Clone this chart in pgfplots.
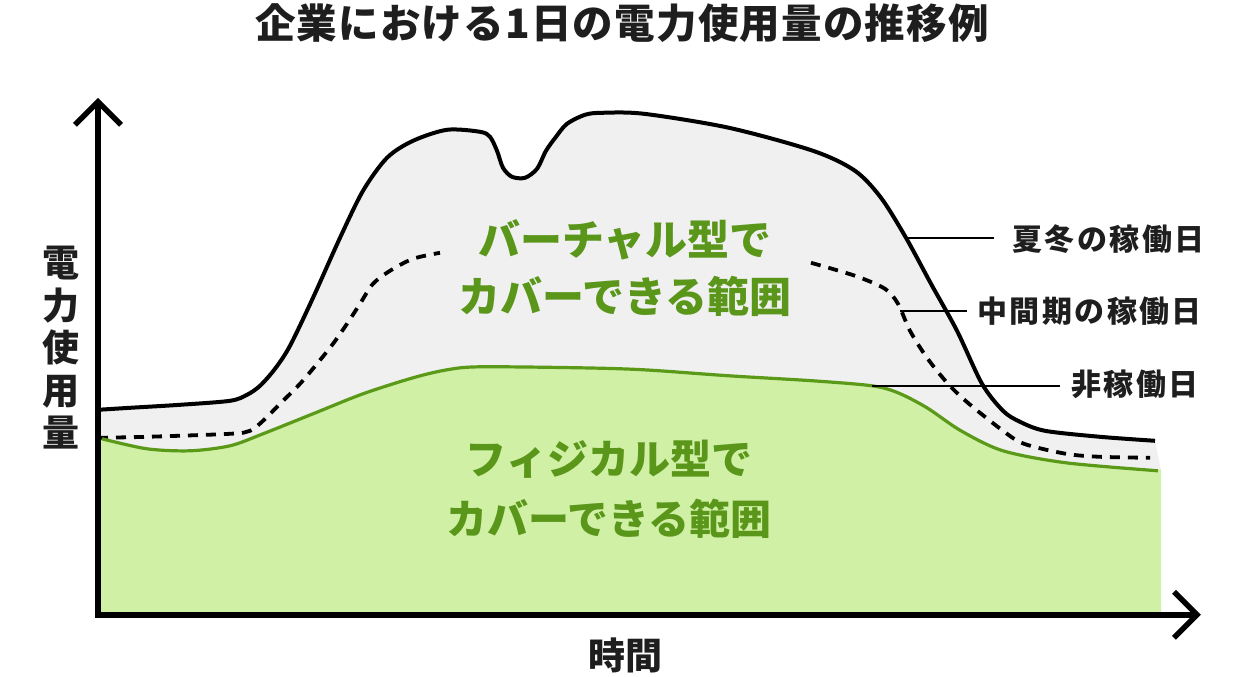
\documentclass[border=0pt]{standalone}
\usepackage{pgfplots}
\pgfplotsset{compat=1.18}
\usepgfplotslibrary{fillbetween}
\usepackage{fontspec}
\newfontfamily\jp{Noto Sans CJK JP}
\newfontfamily\jpt{Noto Sans CJK JP}[LetterSpace=3]
\newfontfamily\jpl{Noto Sans CJK JP}[LetterSpace=8]
\definecolor{gfill}{HTML}{D0F0A6}
\definecolor{gline}{HTML}{5A9A18}
\definecolor{gtext}{HTML}{5A961A}
\definecolor{grayfill}{HTML}{F0F0F0}
\definecolor{txt}{HTML}{1E1E1E}
\begin{document}
\begin{tikzpicture}
\begin{axis}[
  scale only axis, width=1240bp, height=674bp,
  xmin=0, xmax=1240, ymin=0, ymax=674, y dir=reverse,
  hide axis, clip=false,
]
\path (axis cs:0,0) rectangle (axis cs:1240,674);
% peak-season working day
\addplot[name path=blk, draw=none, smooth, tension=0.5] coordinates {
(98,409) (130,407) (180,404) (230,400) (247,394) (260,385) (275,368) (290,345) (313,297) (340,237) (363,190) (387,157) (413,140) (447,129) (480,131) (490,136) (497,150) (503,167) (512,176) (525,177) (537,168) (546,150) (556,136) (567,123) (585,114) (602,112) (644,113) (729,127) (813,150) (855,170) (881,197) (906,237) (931,283) (957,330) (982,383) (1003,410) (1020,421) (1045,430) (1100,436) (1155,440)
};
% non-working day
\addplot[name path=grn, draw=none, smooth, tension=0.5] coordinates {
(98,437) (147,448) (190,450) (230,445) (263,433) (313,413) (363,393) (413,377) (447,369) (480,366) (580,367) (644,369) (729,375) (813,380) (872,385) (898,392) (927,407) (961,430) (1003,450) (1066,462) (1161,469)
};
\path[name path=base] (axis cs:98,614) -- (axis cs:1161,614);
\addplot[fill=grayfill, draw=none] fill between[of=blk and grn];
\addplot[fill=gfill, draw=none] fill between[of=grn and base];
% mid-season working day (dashed)
\addplot[line width=3.8bp, dash pattern=on 10bp off 8bp, black, smooth, tension=0.5] coordinates {
(98,437) (147,436) (230,433) (250,430) (263,420) (280,403) (300,383) (317,363) (333,343) (347,323) (360,303) (373,283) (390,270) (413,258) (440,252)
};
\addplot[line width=3.8bp, dash pattern=on 10bp off 8bp, black, smooth, tension=0.5] coordinates {
(811,262) (855,275) (885,288) (898,303) (910,330) (927,357) (948,383) (969,403) (1003,430) (1024,443) (1066,453) (1100,456) (1150,457)
};
% lines
\addplot[line width=3.2bp, gline, smooth, tension=0.5] coordinates {
(102,438) (147,448) (190,450) (230,445) (263,433) (313,413) (363,393) (413,377) (447,369) (480,366) (580,367) (644,369) (729,375) (813,380) (872,385) (898,392) (927,407) (961,430) (1003,450) (1066,462) (1158,470)
};
\addplot[line width=4bp, black, smooth, tension=0.5] coordinates {
(98,409) (130,407) (180,404) (230,400) (247,394) (260,385) (275,368) (290,345) (313,297) (340,237) (363,190) (387,157) (413,140) (447,129) (480,131) (490,136) (497,150) (503,167) (512,176) (525,177) (537,168) (546,150) (556,136) (567,123) (585,114) (602,112) (644,113) (729,127) (813,150) (855,170) (881,197) (906,237) (931,283) (957,330) (982,383) (1003,410) (1020,421) (1045,430) (1100,436) (1155,440)
};
% leader lines
\draw[line width=2bp, black] (axis cs:905,237) -- (axis cs:994,237);
\draw[line width=2bp, black] (axis cs:900,310) -- (axis cs:967,310);
\draw[line width=2bp, black] (axis cs:872,385) -- (axis cs:1060,385);
% axes
\draw[line width=5.5bp, black, line join=miter] (axis cs:98,101) -- (axis cs:98,614) -- (axis cs:1196,614);
\draw[line width=5.5bp, black, line join=miter] (axis cs:75,124) -- (axis cs:98,101) -- (axis cs:121,124);
\draw[line width=5.5bp, black, line join=miter] (axis cs:1174,591) -- (axis cs:1197,614) -- (axis cs:1174,637);
% texts
\node[txt, font=\jpt\bfseries\fontsize{40.5bp}{46bp}\selectfont] at (axis cs:622,22) {企業における1日の電力使用量の推移例};
\node[gtext, align=center, font=\jp\bfseries\fontsize{42bp}{57bp}\selectfont] at (axis cs:625,267) {バーチャル型で\\カバーできる範囲};
\node[gtext, align=center, font=\jp\bfseries\fontsize{41bp}{60bp}\selectfont] at (axis cs:609,488) {フィジカル型で\\カバーできる範囲};
\node[txt, anchor=west, font=\jpl\bfseries\fontsize{30bp}{36bp}\selectfont] at (axis cs:1009,238) {夏冬の稼働日};
\node[txt, anchor=west, font=\jpl\bfseries\fontsize{30bp}{36bp}\selectfont] at (axis cs:974,310) {中間期の稼働日};
\node[txt, anchor=west, font=\jpl\bfseries\fontsize{30bp}{36bp}\selectfont] at (axis cs:1068,384) {非稼働日};
\node[txt, align=center, font=\jp\bfseries\fontsize{37bp}{42.5bp}\selectfont] at (axis cs:61,347) {電\\力\\使\\用\\量};
\node[txt, font=\jp\bfseries\fontsize{37bp}{44bp}\selectfont] at (axis cs:625,655) {時間};
\end{axis}
\end{tikzpicture}
\end{document}
